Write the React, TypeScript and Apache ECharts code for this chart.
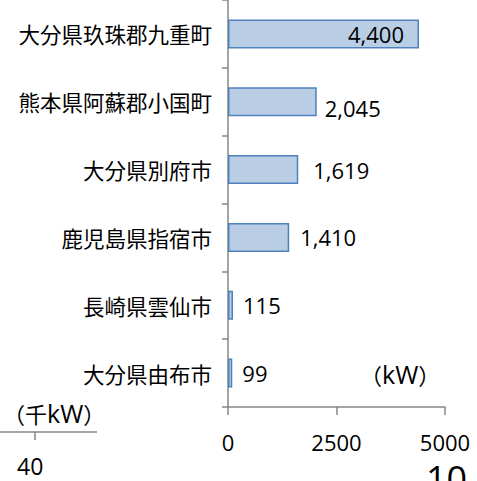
import React, { useEffect, useRef } from "react";
import * as echarts from "echarts";

const categories = [
  "大分県玖珠郡九重町",
  "熊本県阿蘇郡小国町",
  "大分県別府市",
  "鹿児島県指宿市",
  "長崎県雲仙市",
  "大分県由布市",
];
const values = [4400, 2045, 1619, 1410, 115, 99];
const xTicks = [0, 2500, 5000];
const unitLabel = "{p|（}{a|kW}{p|）}";
const otherUnitLabel = "{p|（}{p|千}{a|kW}{p|）}";
const otherTickLabel = "40";
const otherBigLabel = "10";

const CJK = '"Noto Sans CJK JP", "Noto Sans", sans-serif';
const NUM = '"Open Sans", "Noto Sans", sans-serif';

// per-item label tweaks (style only)
const labelDistance = [15, 8, 15, 11, 10, 10];
const labelShiftY = [0, 6, 0, 0, 0, 0];

export default function App() {
  const ref = useRef<HTMLDivElement>(null);
  useEffect(() => {
    if (!ref.current) return;
    const chart = echarts.init(ref.current, null, { renderer: "svg" });
    const axisColor = "#868686";
    const rich = {
      p: { fontFamily: CJK, fontSize: 22, color: "#000" },
      a: { fontFamily: NUM, fontSize: 25, color: "#000" },
    };
    chart.setOption({
      animation: false,
      backgroundColor: "#ffffff",
      grid: { left: 228, top: -8, width: 217, height: 415, containLabel: false },
      xAxis: {
        type: "value",
        min: xTicks[0],
        max: xTicks[xTicks.length - 1],
        interval: xTicks[1] - xTicks[0],
        splitLine: { show: false },
        axisLine: { show: true, lineStyle: { color: axisColor, width: 1.5 } },
        axisTick: { show: true, length: 8, lineStyle: { color: axisColor, width: 1.5 } },
        axisLabel: {
          color: "#000",
          fontFamily: NUM,
          fontSize: 22,
          margin: 24,
          formatter: (v: number) => String(v),
        },
      },
      yAxis: {
        type: "category",
        inverse: true,
        data: categories,
        axisLine: { show: true, lineStyle: { color: axisColor, width: 1.5 } },
        axisTick: { show: true, length: 6, alignWithLabel: false, lineStyle: { color: axisColor, width: 1.5 } },
        axisLabel: { color: "#000", fontFamily: CJK, fontSize: 21.5, margin: 16 },
      },
      series: [
        {
          type: "bar",
          barWidth: 29,
          itemStyle: { color: "#b9cde5", borderColor: "#4f81bd", borderWidth: 1.5 },
          data: values.map((v, i) => ({
            value: v,
            label: {
              show: true,
              position: i === 0 ? "insideRight" : "right",
              distance: labelDistance[i],
              offset: [0, labelShiftY[i]],
              formatter: (p: any) => Number(p.value).toLocaleString("en-US"),
              color: "#000",
              fontFamily: NUM,
              fontSize: 22,
            },
          })),
        },
      ],
      graphic: [
        {
          type: "text",
          left: 360,
          top: 361,
          style: { text: unitLabel, rich, fill: "#000" },
        },
        {
          type: "text",
          left: 3,
          top: 400,
          style: { text: otherUnitLabel, rich, fill: "#000" },
        },
        {
          type: "line",
          shape: { x1: 0, y1: 432, x2: 97, y2: 432 },
          style: { stroke: axisColor, lineWidth: 1.5 },
        },
        {
          type: "line",
          shape: { x1: 35, y1: 432, x2: 35, y2: 440 },
          style: { stroke: axisColor, lineWidth: 1.5 },
        },
        {
          type: "text",
          left: 17,
          top: 454,
          style: { text: otherTickLabel, font: `23px ${NUM}`, fill: "#000" },
        },
        {
          type: "text",
          left: 426,
          top: 460,
          style: { text: otherBigLabel, font: `36px ${NUM}`, fill: "#000" },
        },
      ],
    });
    return () => chart.dispose();
  }, []);
  return (
    <div
      ref={ref}
      style={{ position: "fixed", left: 0, top: 0, width: 477, height: 481, overflow: "hidden" }}
    />
  );
}
